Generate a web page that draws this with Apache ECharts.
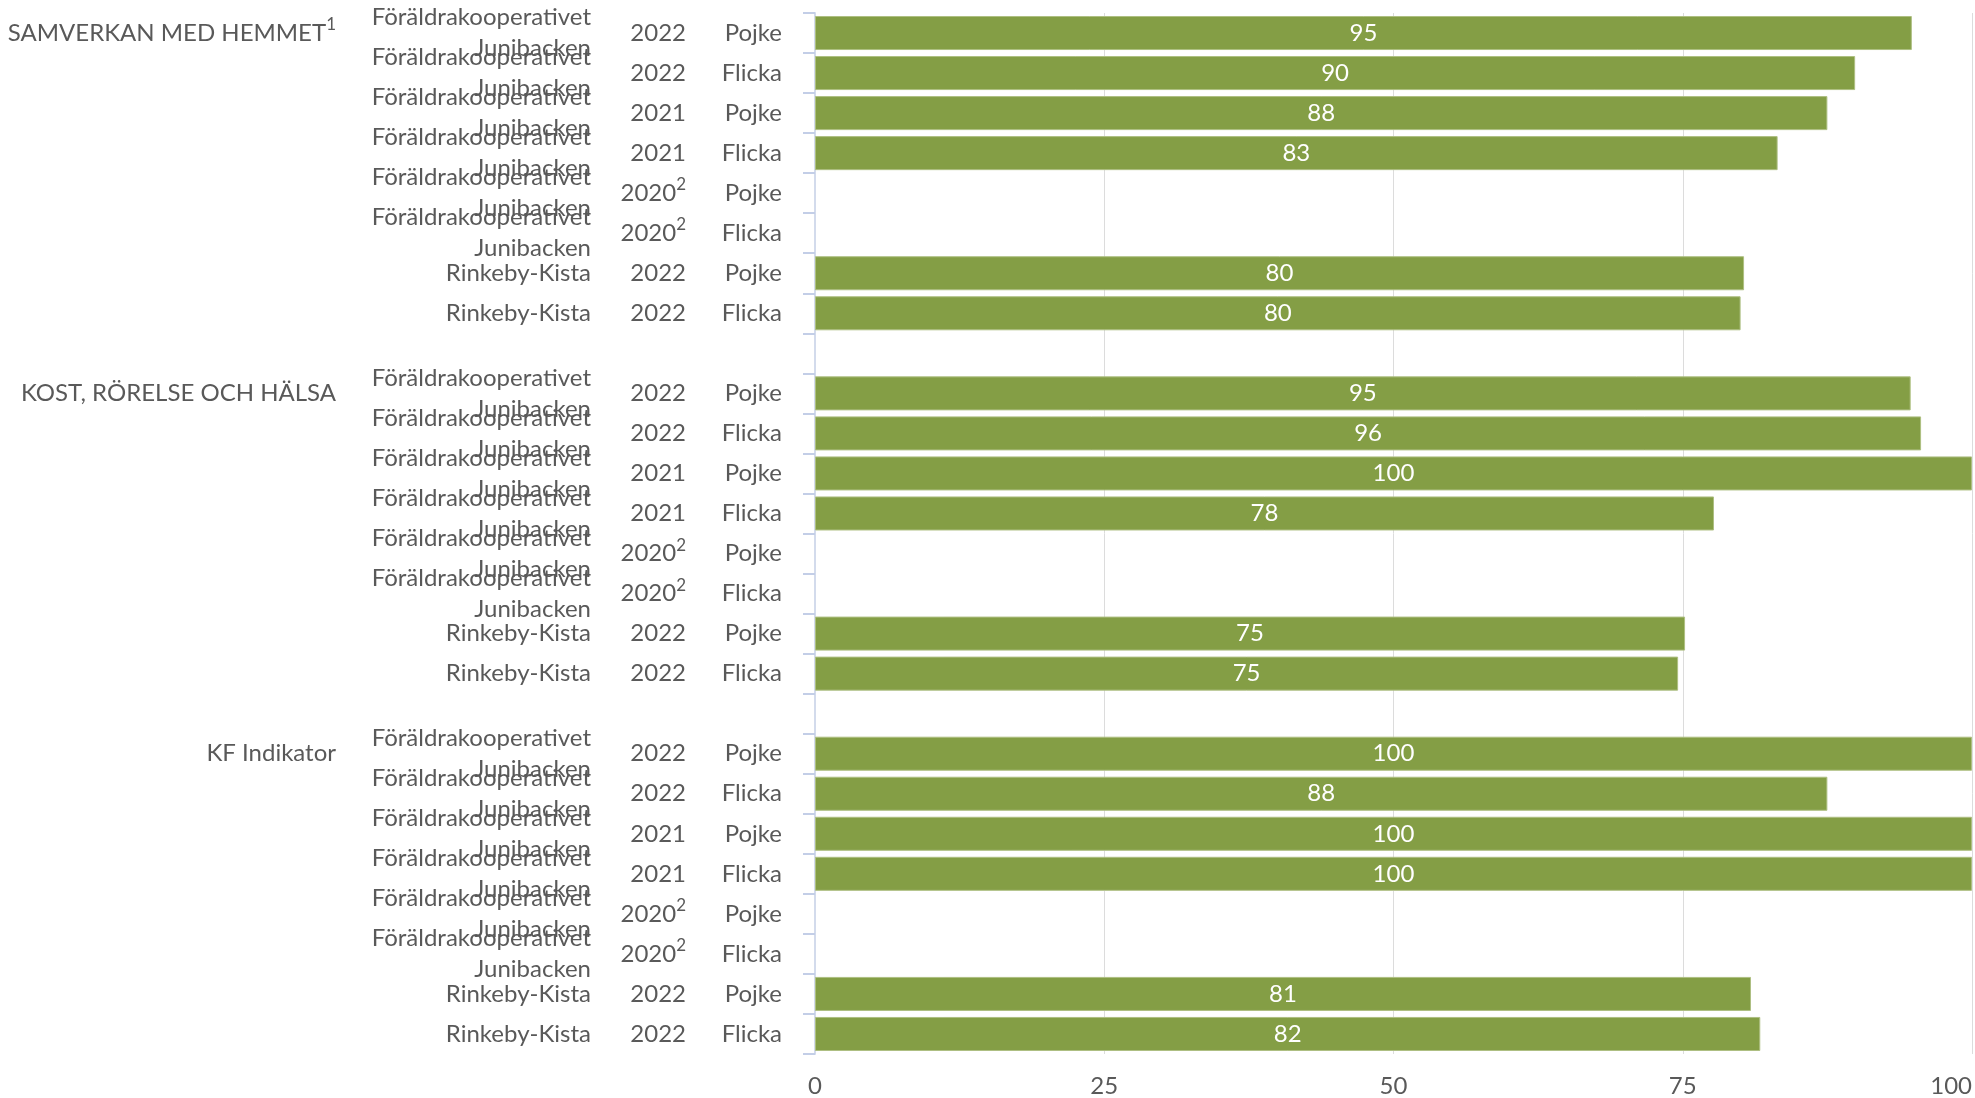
<!DOCTYPE html>
<html>
<head>
<meta charset="utf-8">
<script src="https://cdn.jsdelivr.net/npm/echarts@6/dist/echarts.min.js"></script>
<style>
  html, body { margin: 0; padding: 0; background: #fff; }
  #chart { width: 1975px; height: 1098px; }
</style>
</head>
<body>
<div id="chart"></div>
<script>
  // grupper (rubriker till vänster) och fotnoter
  const groups = ['SAMVERKAN MED HEMMET', 'KOST, RÖRELSE OCH HÄLSA', 'KF Indikator'];
  const groupNotes = ['1', '', ''];
  // rader inom varje grupp
  const units = [
    'Föräldrakooperativet\nJunibacken', 'Föräldrakooperativet\nJunibacken',
    'Föräldrakooperativet\nJunibacken', 'Föräldrakooperativet\nJunibacken',
    'Föräldrakooperativet\nJunibacken', 'Föräldrakooperativet\nJunibacken',
    'Rinkeby-Kista', 'Rinkeby-Kista'
  ];
  const years = ['2022', '2022', '2021', '2021', '2020', '2020', '2022', '2022'];
  const yearNotes = ['', '', '', '', '2', '2', '', ''];
  const genders = ['Pojke', 'Flicka', 'Pojke', 'Flicka', 'Pojke', 'Flicka', 'Pojke', 'Flicka'];
  // värden per grupp (null = saknas)
  const samverkan = [94.8, 89.9, 87.5, 83.2, null, null, 80.3, 80.0];
  const kost = [94.7, 95.6, 100, 77.7, null, null, 75.2, 74.6];
  const kfIndikator = [100, 87.5, 100, 100, null, null, 80.9, 81.7];
  const xTicks = [0, 25, 50, 75, 100];

  const values = [samverkan, kost, kfIndikator];

  // bygg kategorier, med en tom rad mellan grupperna
  let rows = [];
  groups.forEach((g, gi) => {
    units.forEach((u, ri) => {
      rows.push({
        id: 'g' + gi + 'r' + ri,
        group: ri === 0 ? g : '',
        groupNote: ri === 0 ? groupNotes[gi] : '',
        unit: u,
        year: years[ri],
        yearNote: yearNotes[ri],
        gender: genders[ri],
        value: values[gi][ri]
      });
    });
    if (gi < groups.length - 1) {
      rows.push({ id: 'gap' + gi, group: '', groupNote: '', unit: '', year: '', yearNote: '', gender: '', value: null });
    }
  });
  const cats = rows.map(r => r.id);
  const byId = {};
  rows.forEach(r => { byId[r.id] = r; });

  const textColor = '#595959';
  const fontFamily = 'Lato';
  const fs = 24;

  const richSup = {
    t: { fontSize: fs, color: textColor, fontFamily: fontFamily, lineHeight: 34 },
    s: { fontSize: 17, color: textColor, fontFamily: fontFamily, lineHeight: 16, verticalAlign: 'top' }
  };

  function labelAxis(margin, formatter) {
    return {
      type: 'category',
      position: 'left',
      inverse: true,
      data: cats,
      gridIndex: 0,
      axisLine: { show: false },
      axisTick: { show: false },
      splitLine: { show: false },
      axisLabel: {
        interval: 0,
        margin: margin,
        color: textColor,
        fontFamily: fontFamily,
        fontSize: fs,
        formatter: formatter
      }
    };
  }

  const myEcharts = echarts.init(document.getElementById('chart'));
  let option = {
    backgroundColor: '#ffffff',
    animation: false,
    grid: { left: 815, right: 3, top: 13, bottom: 44, containLabel: false, outerBoundsMode: 'none' },
    xAxis: {
      type: 'value',
      min: xTicks[0],
      max: xTicks[xTicks.length - 1],
      interval: 25,
      axisLine: { show: false },
      axisTick: { show: false },
      splitLine: { show: true, lineStyle: { color: '#dcdcdc', width: 1 } },
      axisLabel: {
        margin: 20,
        color: textColor,
        fontFamily: fontFamily,
        fontSize: fs,
        alignMaxLabel: 'right'
      }
    },
    yAxis: [
      // kön + axellinje
      {
        type: 'category',
        position: 'left',
        inverse: true,
        data: cats,
        axisLine: { show: true, lineStyle: { color: '#d3dbec', width: 2 } },
        axisTick: { show: true, length: 12, lineStyle: { color: '#c3cee7', width: 2 } },
        axisLabel: {
          interval: 0,
          margin: 33,
          color: textColor,
          fontFamily: fontFamily,
          fontSize: fs,
          formatter: v => byId[v].gender
        }
      },
      // år
      labelAxis(129, v => {
        const r = byId[v];
        if (!r.year) return '';
        return r.yearNote ? '{t|' + r.year + '}{s|' + r.yearNote + '}' : '{t|' + r.year + '}';
      }),
      // enhet
      labelAxis(224, v => byId[v].unit),
      // grupp
      labelAxis(479, v => {
        const r = byId[v];
        if (!r.group) return '';
        return r.groupNote ? '{t|' + r.group + '}{s|' + r.groupNote + '}' : '{t|' + r.group + '}';
      })
    ],
    series: [{
      type: 'bar',
      yAxisIndex: 0,
      data: rows.map(r => r.value === null ? '-' : r.value),
      barCategoryGap: '15%',
      itemStyle: { color: '#849e45', borderColor: '#aebf82', borderWidth: 1 },
      label: {
        show: true,
        position: 'inside',
        color: '#ffffff',
        fontFamily: fontFamily,
        fontSize: fs,
        formatter: p => Math.round(p.value)
      }
    }]
  };
  option.yAxis[1].axisLabel.rich = richSup;
  option.yAxis[3].axisLabel.rich = richSup;
  option.yAxis[2].axisLabel.lineHeight = 31;
  myEcharts.setOption(option);
</script>
</body>
</html>
